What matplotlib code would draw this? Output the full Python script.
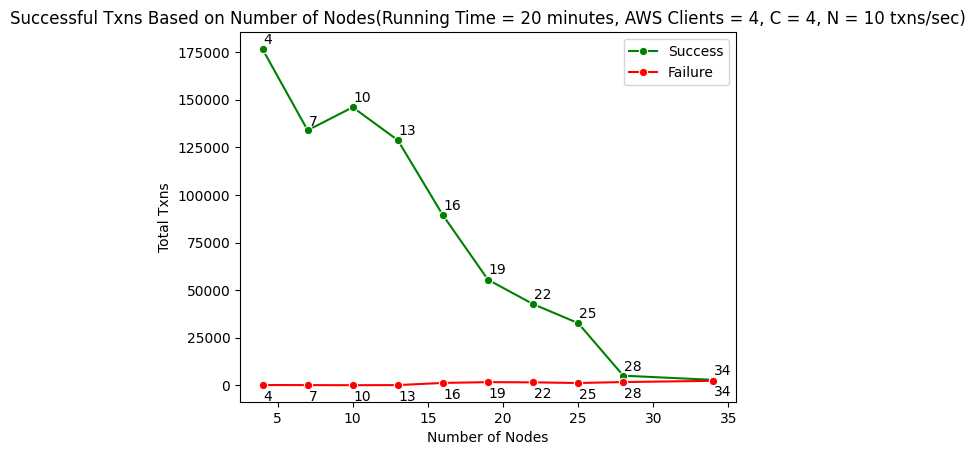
import numpy as np
import matplotlib
matplotlib.use("Agg")
import matplotlib.pyplot as plt

# ── Data ──────────────────────────────────────────────────────────────
nodes   = [4, 7, 10, 13, 16, 19, 22, 25, 28, 34]
success = [176600, 134000, 146100, 128800, 89400, 55500, 42700, 32700, 5100, 2900]
failure = [200, 150, 100, 150, 1300, 1700, 1600, 1250, 1750, 2400]

# label offsets (data units) for the point annotations
succ_off = [2800, 2500, 2800, 2800, 2800, 2800, 2800, 2800, 2300, 2700]
FAIL_OFF = 8200

fig = plt.figure(figsize=(9.75, 4.55), dpi=100)
ax = fig.add_axes([240 / 975, 53 / 455, 496 / 975, 369.6 / 455])

ax.plot(nodes, success, color="green", marker="o", markersize=6,
        markeredgecolor="white", markeredgewidth=0.75, lw=1.5, label="Success")
ax.plot(nodes, failure, color="red", marker="o", markersize=6,
        markeredgecolor="white", markeredgewidth=0.75, lw=1.5, label="Failure")

for x, y, o in zip(nodes, success, succ_off):
    ax.text(x + 0.05, y + o, str(x), fontsize=10)
for x, y in zip(nodes, failure):
    ax.text(x + 0.05, y - FAIL_OFF, str(x), fontsize=10)

ax.set_xlabel("Number of Nodes")
ax.set_ylabel("Total Txns")
ax.set_title("Successful Txns Based on Number of Nodes(Running Time = 20 minutes, "
             "AWS Clients = 4, C = 4, N = 10 txns/sec)", fontsize=12)
ax.legend(loc="upper right")

plt.savefig("out.png", dpi=100)
